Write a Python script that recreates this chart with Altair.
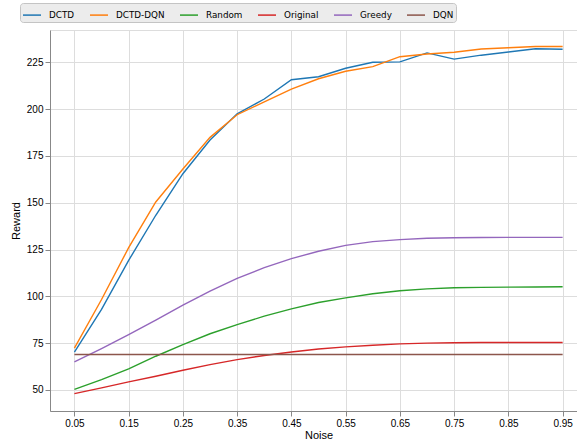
import altair as alt
import pandas as pd

# Noise levels on the x axis
noise = [0.05, 0.10, 0.15, 0.20, 0.25, 0.30, 0.35, 0.40, 0.45, 0.50,
         0.55, 0.60, 0.65, 0.70, 0.75, 0.80, 0.85, 0.90, 0.95]

# Reward per method
dctd = [70.2, 93.0, 119.2, 143.3, 165.5, 183.5, 197.5, 205.4, 215.7, 217.3,
        221.8, 225.0, 225.2, 230.0, 226.7, 228.8, 230.5, 232.2, 232.0]
dctd_dqn = [72.3, 98.3, 126.0, 150.4, 168.0, 184.9, 197.0, 203.9, 210.7, 216.2,
            220.2, 222.7, 228.0, 229.4, 230.4, 232.1, 232.8, 233.4, 233.4]
random_ = [50.3, 55.5, 61.2, 68.0, 74.2, 80.0, 84.9, 89.4, 93.3, 96.7,
           99.2, 101.4, 103.0, 104.0, 104.6, 104.8, 104.9, 105.0, 105.1]
original = [48.0, 51.1, 54.3, 57.3, 60.5, 63.5, 66.2, 68.4, 70.3, 71.9,
            73.0, 73.9, 74.6, 75.0, 75.2, 75.3, 75.3, 75.3, 75.3]
greedy = [65.0, 72.1, 79.6, 87.3, 95.3, 102.8, 109.6, 115.3, 120.1, 124.1,
          127.2, 129.2, 130.3, 131.0, 131.3, 131.4, 131.5, 131.5, 131.5]
dqn = [68.9] * len(noise)

methods = ["DCTD", "DCTD-DQN", "Random", "Original", "Greedy", "DQN"]
colors = ["#1f77b4", "#ff7f0e", "#2ca02c", "#d62728", "#9467bd", "#8c564b"]
series = [dctd, dctd_dqn, random_, original, greedy, dqn]

x_ticks = [0.05, 0.15, 0.25, 0.35, 0.45, 0.55, 0.65, 0.75, 0.85, 0.95]
y_ticks = [50, 75, 100, 125, 150, 175, 200, 225]

rows = []
for name, vals in zip(methods, series):
    for n, v in zip(noise, vals):
        rows.append({"Noise": n, "Reward": v, "Method": name})
df = pd.DataFrame(rows)

font = "DejaVu Sans"

chart = alt.Chart(df).mark_line(strokeWidth=1.4).encode(
    x=alt.X(
        "Noise:Q",
        scale=alt.Scale(domain=[0.005, 0.9765], nice=False, zero=False),
        axis=alt.Axis(
            values=x_ticks, format=".2f", title="Noise",
            titleX=268.5, titleY=24, titleAlign="center", titleBaseline="middle",
            titleFontWeight=400,
        ),
    ),
    y=alt.Y(
        "Reward:Q",
        scale=alt.Scale(domain=[38.75, 242.25], nice=False, zero=False),
        axis=alt.Axis(
            values=y_ticks, format="d", title="Reward",
            titleX=-34, titleY=190.5, titleAngle=-90,
            titleAlign="center", titleBaseline="middle",
            titleFontWeight=400,
        ),
    ),
    color=alt.Color(
        "Method:N",
        scale=alt.Scale(domain=methods, range=colors),
        sort=methods,
        legend=alt.Legend(
            title=None, orient="none", direction="horizontal",
            legendX=-30, legendY=-27,
            symbolType="stroke", symbolSize=324, symbolStrokeWidth=1.5,
            labelFont=font, labelFontSize=8.8, labelFontWeight=400,
            labelColor="#000000",
            labelOffset=7, columnPadding=12, padding=2,
            fillColor="#ececec", strokeColor="#c4c4c4", cornerRadius=3,
        ),
    ),
    order=alt.Order("Noise:Q"),
).properties(
    width=527,
    height=381,
    padding={"left": 50, "top": 30, "right": 0, "bottom": 34},
    autosize=alt.AutoSizeParams(type="none"),
).configure_view(
    stroke="#444444", strokeWidth=1,
).configure_axis(
    domain=False,
    grid=True, gridColor="#c4c4c4", gridWidth=0.9,
    tickColor="#222222", tickSize=3.5, tickWidth=0.9,
    labelFont=font, labelFontSize=10, labelColor="#000000", labelPadding=3.5,
    titleFont=font, titleFontSize=12, titleColor="#000000",
).configure(background="#ffffff")

chart.save("out.html", embed_options={"renderer": "svg", "actions": False})
